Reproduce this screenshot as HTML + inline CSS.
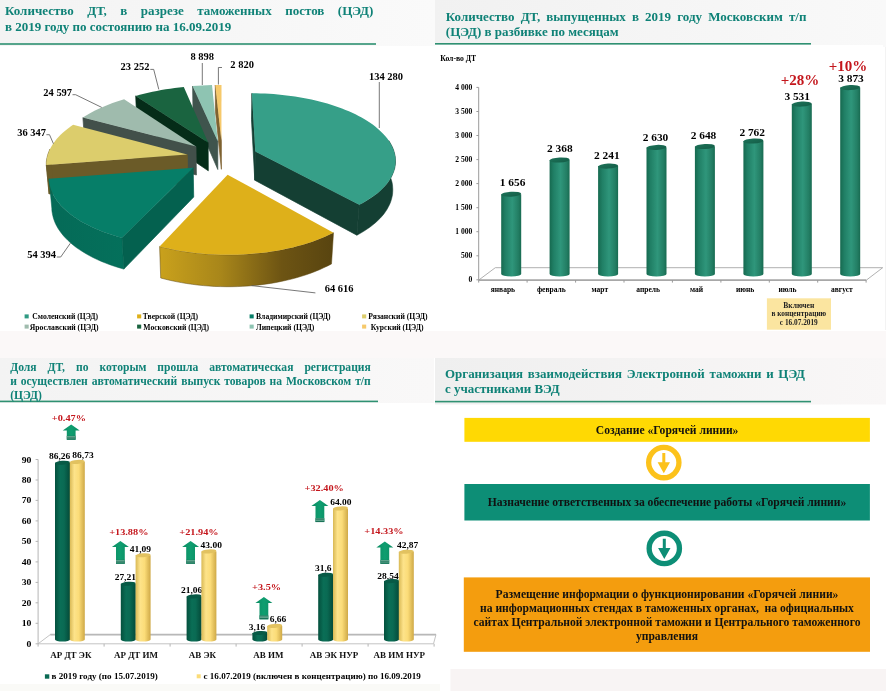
<!DOCTYPE html>
<html lang="ru"><head><meta charset="utf-8"><title>Слайд</title>
<style>
html,body{margin:0;padding:0;background:#fff}
#page{position:relative;width:886px;height:691px;overflow:hidden;background:#fff;font-family:"Liberation Serif","Noto Serif CJK SC",serif}
#page svg{position:absolute;left:0;top:0}
#page svg,#page .t{filter:blur(0.45px)}
svg text{font-family:"Liberation Serif","Noto Serif CJK SC",serif}
.t{position:absolute;color:#0f8277;font-weight:bold;text-align:left;white-space:nowrap}
.t.j{text-align:justify;text-align-last:justify;white-space:normal}
</style></head><body>
<div id="page">
<svg width="886" height="691" viewBox="0 0 886 691">
<rect x="0" y="0" width="886" height="691" fill="#ffffff"/>
<defs><linearGradient id="h1" x1="0" x2="1" y1="0" y2="0"><stop offset="0" stop-color="#f3f3f3"/><stop offset="1" stop-color="#fafafa"/></linearGradient><linearGradient id="h2" x1="0" x2="1" y1="0" y2="0"><stop offset="0" stop-color="#f1f1f1"/><stop offset="1" stop-color="#f9f9f9"/></linearGradient><linearGradient id="h3" x1="0" x2="1" y1="0" y2="0"><stop offset="0" stop-color="#f3f3f3"/><stop offset="1" stop-color="#f9f8f8"/></linearGradient><linearGradient id="h4" x1="0" x2="1" y1="0" y2="0"><stop offset="0" stop-color="#efefef"/><stop offset="1" stop-color="#f9f7f7"/></linearGradient></defs>
<rect x="0" y="0" width="435" height="46" fill="url(#h1)"/>
<rect x="435" y="0" width="451" height="45" fill="url(#h2)"/>
<rect x="883" y="0" width="3" height="47" fill="#f9f9f9"/>
<rect x="885" y="47" width="1" height="283" fill="#f3f3f3"/>
<rect x="0" y="331" width="886" height="27" fill="#fbf8f8"/>
<rect x="0" y="358" width="434" height="45" fill="url(#h3)"/>
<rect x="435" y="358" width="451" height="46.5" fill="url(#h4)"/>
<rect x="450.5" y="669" width="436" height="22" fill="#f8f4f4"/>
<rect x="0" y="684" width="440" height="7" fill="#fafaf7"/>
<rect x="0" y="43.2" width="376" height="1.6" fill="#2f9172"/>
<rect x="435" y="43.0" width="376" height="1.6" fill="#2f9172"/>
<rect x="0" y="400.6" width="378" height="1.6" fill="#2f9172"/>
<rect x="435" y="400.8" width="376" height="1.6" fill="#2f9172"/>
<defs>
<linearGradient id="gTv" x1="160" x2="334" y1="0" y2="0" gradientUnits="userSpaceOnUse"><stop offset="0" stop-color="#c9a11c"/><stop offset="0.35" stop-color="#a8861a"/><stop offset="0.7" stop-color="#6d5413"/><stop offset="1" stop-color="#584410"/></linearGradient>
<linearGradient id="gVl" x1="48" x2="125" y1="0" y2="0" gradientUnits="userSpaceOnUse"><stop offset="0" stop-color="#056a57"/><stop offset="1" stop-color="#04705b"/></linearGradient>
</defs>
<g id="pie"><polygon points="221.4,141.1 215.3,85.0 215.4,111.1 221.4,169.3" fill="#7e6230" stroke="#7e6230" stroke-width="0.7" stroke-linejoin="round"/>
<polygon points="221.4,141.1 215.3,85.0 218.4,84.9 221.5,84.9" fill="#f6c96b"/>
<polygon points="217.8,141.2 192.6,86.1 193.0,112.3 217.8,169.5" fill="#3f544d" stroke="#3f544d" stroke-width="0.7" stroke-linejoin="round"/>
<polygon points="217.8,141.2 192.6,86.1 197.4,85.7 202.3,85.4 207.1,85.2 212.0,85.1" fill="#8ec4b2"/>
<polygon points="208.1,142.5 135.7,95.9 136.9,122.5 208.3,170.8" fill="#052c18" stroke="#052c18" stroke-width="0.7" stroke-linejoin="round"/>
<polygon points="208.1,142.5 135.7,95.9 139.8,94.8 144.0,93.7 148.2,92.7 152.5,91.7 156.8,90.9 161.2,90.1 165.7,89.3 170.2,88.7 174.7,88.1 179.2,87.6 183.8,87.1" fill="#1a6440"/>
<polygon points="196.0,146.6 82.9,117.6 84.9,145.0 196.4,175.0" fill="#42504a" stroke="#42504a" stroke-width="0.7" stroke-linejoin="round"/>
<polygon points="196.0,146.6 82.9,117.6 85.7,115.8 88.7,114.0 91.8,112.3 95.0,110.6 98.3,109.0 101.7,107.4 105.2,105.9 108.8,104.5 112.5,103.1 116.3,101.8 120.2,100.5 124.1,99.3" fill="#9fbbad"/>
<polygon points="187.3,154.6 46.3,165.0 49.1,194.0 187.9,183.3" fill="#6b5b28" stroke="#6b5b28" stroke-width="0.7" stroke-linejoin="round"/>
<polygon points="46.3,165.0 46.3,162.2 46.6,159.5 47.2,156.9 47.9,154.2 48.9,151.6 50.0,149.0 52.7,177.5 51.5,180.2 50.6,182.9 49.9,185.6 49.4,188.4 49.1,191.2 49.1,194.0" fill="#6b5b28" stroke="#6b5b28" stroke-width="0.5" stroke-linejoin="round"/>
<polygon points="187.3,154.6 46.3,165.0 46.3,162.5 46.6,160.1 47.0,157.7 47.6,155.3 48.4,152.9 49.3,150.5 50.4,148.2 51.7,145.9 53.2,143.6 54.8,141.4 56.6,139.1 58.5,137.0 60.6,134.8 62.8,132.8 65.2,130.7 67.7,128.7 70.3,126.7 73.1,124.8" fill="#dccd6c"/>
<polygon points="255.3,151.6 251.9,93.3 251.5,119.8 254.8,180.2" fill="#143f33" stroke="#143f33" stroke-width="0.7" stroke-linejoin="round"/>
<polygon points="255.3,151.6 359.2,204.8 356.9,235.2 254.8,180.2" fill="#143f33" stroke="#143f33" stroke-width="0.7" stroke-linejoin="round"/>
<polygon points="388.7,140.5 390.1,142.7 391.3,144.9 392.4,147.1 393.4,149.4 394.1,151.7 394.7,154.0 395.2,156.3 395.4,158.6 395.5,160.9 395.5,163.3 395.2,165.6 394.8,168.0 394.1,170.3 393.3,172.6 392.3,175.0 391.2,177.3 389.8,179.6 388.3,181.9 386.5,184.2 384.6,186.4 382.5,188.6 380.2,190.8 377.8,192.9 375.1,195.0 372.3,197.1 369.3,199.1 366.1,201.1 362.8,203.0 359.2,204.8 356.9,235.2 360.4,233.3 363.7,231.3 366.8,229.3 369.8,227.2 372.6,225.1 375.2,222.9 377.6,220.7 379.9,218.5 382.0,216.2 383.9,213.9 385.6,211.5 387.1,209.2 388.4,206.8 389.6,204.4 390.6,202.0 391.4,199.5 392.0,197.1 392.5,194.7 392.7,192.3 392.8,189.8 392.7,187.4 392.5,185.0 392.1,182.6 391.5,180.3 390.7,177.9 389.8,175.6 388.7,173.3 387.5,171.0 386.1,168.7" fill="#143f33" stroke="#143f33" stroke-width="0.5" stroke-linejoin="round"/>
<polygon points="255.3,151.6 251.9,93.3 256.2,93.3 260.6,93.4 264.9,93.6 269.3,93.8 273.6,94.1 278.0,94.5 282.3,94.9 286.5,95.4 290.8,95.9 295.0,96.5 299.2,97.2 303.4,97.9 307.5,98.7 311.5,99.5 315.6,100.5 319.5,101.4 323.4,102.5 327.3,103.6 331.1,104.7 334.8,105.9 338.4,107.2 342.0,108.5 345.5,109.9 348.9,111.3 352.2,112.8 355.5,114.3 358.6,115.9 361.6,117.6 364.6,119.3 367.4,121.0 370.1,122.8 372.7,124.6 375.2,126.5 377.5,128.4 379.7,130.4 381.8,132.4 383.8,134.4 385.6,136.5 387.3,138.6 388.8,140.8 390.2,143.0 391.5,145.2 392.5,147.4 393.4,149.6 394.2,151.9 394.8,154.2 395.2,156.5 395.5,158.8 395.5,161.1 395.4,163.5 395.2,165.8 394.7,168.1 394.1,170.5 393.3,172.8 392.3,175.1 391.1,177.4 389.7,179.7 388.2,182.0 386.5,184.3 384.5,186.5 382.4,188.7 380.2,190.9 377.7,193.0 375.1,195.1 372.2,197.1 369.2,199.1 366.1,201.1 362.7,203.0 359.2,204.8" fill="#369f88"/>
<polygon points="193.2,167.8 122.0,237.7 123.8,269.1 193.7,197.0" fill="#04614f" stroke="#04614f" stroke-width="0.7" stroke-linejoin="round"/>
<polygon points="122.0,237.7 117.2,236.4 112.5,235.0 107.9,233.5 103.5,231.9 99.2,230.2 95.1,228.5 91.1,226.7 87.3,224.8 83.7,222.9 80.2,220.9 76.9,218.8 73.8,216.7 70.8,214.6 68.0,212.3 65.5,210.1 63.1,207.8 60.8,205.5 58.8,203.1 57.0,200.7 55.3,198.3 53.9,195.9 52.6,193.5 51.6,191.0 50.7,188.5 50.0,186.1 49.4,183.6 49.1,181.1 49.0,178.7 51.8,208.2 51.9,210.7 52.3,213.3 52.8,215.8 53.5,218.4 54.4,220.9 55.4,223.5 56.7,226.0 58.1,228.5 59.8,231.0 61.6,233.4 63.6,235.9 65.8,238.3 68.1,240.6 70.7,242.9 73.4,245.2 76.3,247.5 79.4,249.6 82.7,251.7 86.1,253.8 89.7,255.8 93.4,257.7 97.3,259.6 101.4,261.4 105.6,263.1 109.9,264.7 114.4,266.3 119.0,267.7 123.8,269.1" fill="url(#gVl)" stroke="#04614f" stroke-width="0.5" stroke-linejoin="round"/>
<polygon points="193.2,167.8 122.0,237.7 117.2,236.4 112.5,235.0 107.9,233.5 103.5,231.9 99.2,230.2 95.1,228.5 91.1,226.7 87.3,224.8 83.7,222.9 80.2,220.9 76.9,218.8 73.8,216.7 70.8,214.6 68.0,212.3 65.5,210.1 63.1,207.8 60.8,205.5 58.8,203.1 57.0,200.7 55.3,198.3 53.9,195.9 52.6,193.5 51.6,191.0 50.7,188.5 50.0,186.1 49.4,183.6 49.1,181.1 49.0,178.7" fill="#067e68"/>
<polygon points="333.5,232.7 329.6,234.6 325.5,236.5 321.2,238.3 316.8,240.0 312.3,241.7 307.6,243.3 302.8,244.7 297.8,246.1 292.8,247.4 287.6,248.6 282.3,249.7 276.9,250.7 271.5,251.6 266.0,252.4 260.4,253.1 254.7,253.6 249.0,254.1 243.3,254.5 237.5,254.7 231.7,254.8 225.9,254.8 220.2,254.7 214.4,254.5 208.6,254.2 202.9,253.7 197.3,253.2 191.6,252.5 186.1,251.8 180.6,250.9 175.2,249.9 169.9,248.8 164.7,247.7 159.6,246.4 160.7,278.0 165.7,279.3 170.8,280.5 176.0,281.6 181.3,282.6 186.7,283.5 192.2,284.3 197.7,285.0 203.3,285.6 208.9,286.0 214.5,286.4 220.2,286.6 225.9,286.7 231.6,286.7 237.2,286.6 242.9,286.3 248.5,286.0 254.1,285.5 259.7,284.9 265.2,284.2 270.6,283.4 276.0,282.5 281.2,281.4 286.4,280.3 291.5,279.1 296.5,277.7 301.3,276.3 306.1,274.8 310.7,273.2 315.1,271.5 319.5,269.7 323.6,267.8 327.7,265.9 331.5,263.9" fill="url(#gTv)" stroke="#5c4610" stroke-width="0.5" stroke-linejoin="round"/>
<polygon points="227.6,174.7 333.5,232.7 329.6,234.6 325.5,236.5 321.2,238.3 316.8,240.0 312.3,241.7 307.6,243.3 302.8,244.7 297.8,246.1 292.8,247.4 287.6,248.6 282.3,249.7 276.9,250.7 271.5,251.6 266.0,252.4 260.4,253.1 254.7,253.6 249.0,254.1 243.3,254.5 237.5,254.7 231.7,254.8 225.9,254.8 220.2,254.7 214.4,254.5 208.6,254.2 202.9,253.7 197.3,253.2 191.6,252.5 186.1,251.8 180.6,250.9 175.2,249.9 169.9,248.8 164.7,247.7 159.6,246.4" fill="#deb01a"/></g>
<polyline points="379.3,82 379.3,128" stroke="#555" stroke-width="0.8" fill="none"/>
<polyline points="251.5,285.6 315.4,292.9" stroke="#555" stroke-width="0.8" fill="none"/>
<polyline points="56.8,257 60.7,257 70.4,243.2" stroke="#555" stroke-width="0.8" fill="none"/>
<polyline points="46.4,134.7 49.5,134.7 53.4,143.7" stroke="#555" stroke-width="0.8" fill="none"/>
<polyline points="72.5,94.7 75.6,94.7 101.7,107.4" stroke="#555" stroke-width="0.8" fill="none"/>
<polyline points="150.3,69.4 153.7,69.4 158.8,89.4" stroke="#555" stroke-width="0.8" fill="none"/>
<polyline points="202.3,63 202.3,85" stroke="#555" stroke-width="0.8" fill="none"/>
<polyline points="222,67.5 218.4,67.5 218.4,84.5" stroke="#555" stroke-width="0.8" fill="none"/>
<text transform="translate(386.0 80.0) scale(1.070 1)" font-size="9.81" text-anchor="middle" fill="#000" font-weight="bold">134 280</text>
<text transform="translate(324.7 292.4) scale(1.070 1)" font-size="9.81" text-anchor="start" fill="#000" font-weight="bold">64 616</text>
<text transform="translate(56.0 258.3) scale(1.070 1)" font-size="9.81" text-anchor="end" fill="#000" font-weight="bold">54 394</text>
<text transform="translate(46.0 136.0) scale(1.070 1)" font-size="9.81" text-anchor="end" fill="#000" font-weight="bold">36 347</text>
<text transform="translate(72.1 96.0) scale(1.070 1)" font-size="9.81" text-anchor="end" fill="#000" font-weight="bold">24 597</text>
<text transform="translate(149.4 70.3) scale(1.070 1)" font-size="9.81" text-anchor="end" fill="#000" font-weight="bold">23 252</text>
<text transform="translate(202.2 60.3) scale(1.070 1)" font-size="9.81" text-anchor="middle" fill="#000" font-weight="bold">8 898</text>
<text transform="translate(230.3 67.6) scale(1.070 1)" font-size="9.81" text-anchor="start" fill="#000" font-weight="bold">2 820</text>
<rect x="24.6" y="314.4" width="4.1" height="4" fill="#2f9a82"/>
<text x="32.3" y="319.1" font-size="7.65" text-anchor="start" fill="#000" font-weight="bold">Смоленский (ЦЭД)</text>
<rect x="137.1" y="314.4" width="4.1" height="4" fill="#deb01a"/>
<text x="142.8" y="319.1" font-size="7.65" text-anchor="start" fill="#000" font-weight="bold">Тверской (ЦЭД)</text>
<rect x="249.6" y="314.4" width="4.1" height="4" fill="#067e68"/>
<text x="256.0" y="319.1" font-size="7.65" text-anchor="start" fill="#000" font-weight="bold">Владимирский (ЦЭД)</text>
<rect x="362.1" y="314.4" width="4.1" height="4" fill="#dccd6c"/>
<text x="368.3" y="319.1" font-size="7.65" text-anchor="start" fill="#000" font-weight="bold">Рязанский (ЦЭД)</text>
<rect x="24.6" y="324.6" width="4.1" height="4" fill="#9fbbad"/>
<text x="29.8" y="329.8" font-size="7.65" text-anchor="start" fill="#000" font-weight="bold">Ярославский (ЦЭД)</text>
<rect x="137.1" y="324.6" width="4.1" height="4" fill="#1a6440"/>
<text x="143.3" y="329.8" font-size="7.65" text-anchor="start" fill="#000" font-weight="bold">Московский (ЦЭД)</text>
<rect x="249.6" y="324.6" width="4.1" height="4" fill="#8ec4b2"/>
<text x="256.0" y="329.8" font-size="7.65" text-anchor="start" fill="#000" font-weight="bold">Липецкий (ЦЭД)</text>
<rect x="362.1" y="324.6" width="4.1" height="4" fill="#f6c96b"/>
<text x="370.7" y="329.8" font-size="7.65" text-anchor="start" fill="#000" font-weight="bold">Курский (ЦЭД)</text>
<defs>
<linearGradient id="gB" x1="0" x2="1" y1="0" y2="0"><stop offset="0" stop-color="#16694f"/><stop offset="0.2" stop-color="#207f65"/><stop offset="0.55" stop-color="#2f967b"/><stop offset="0.85" stop-color="#237e64"/><stop offset="1" stop-color="#186b51"/></linearGradient>
<linearGradient id="gBt" x1="0" x2="1" y1="0" y2="1"><stop offset="0" stop-color="#1d7359"/><stop offset="1" stop-color="#145d47"/></linearGradient>
</defs>
<polygon points="478.7,280.1 495.3,267.7 882.7,267.7 866.4,280.1" fill="#fff" stroke="#a8a8a8" stroke-width="0.9"/>
<line x1="478.7" y1="87.4" x2="478.7" y2="279.8" stroke="#9a9a9a" stroke-width="1" fill="none"/>
<line x1="476.4" y1="279.8" x2="478.7" y2="279.8" stroke="#9a9a9a" stroke-width="1" fill="none"/>
<text transform="translate(472.4 282.2) scale(1.040 1)" font-size="7.31" text-anchor="end" fill="#000" font-weight="bold">0</text>
<line x1="476.4" y1="255.8" x2="478.7" y2="255.8" stroke="#9a9a9a" stroke-width="1" fill="none"/>
<text transform="translate(472.4 258.1) scale(1.040 1)" font-size="7.31" text-anchor="end" fill="#000" font-weight="bold">500</text>
<line x1="476.4" y1="231.7" x2="478.7" y2="231.7" stroke="#9a9a9a" stroke-width="1" fill="none"/>
<text transform="translate(472.4 234.1) scale(1.040 1)" font-size="7.31" text-anchor="end" fill="#000" font-weight="bold">1 000</text>
<line x1="476.4" y1="207.7" x2="478.7" y2="207.7" stroke="#9a9a9a" stroke-width="1" fill="none"/>
<text transform="translate(472.4 210.1) scale(1.040 1)" font-size="7.31" text-anchor="end" fill="#000" font-weight="bold">1 500</text>
<line x1="476.4" y1="183.6" x2="478.7" y2="183.6" stroke="#9a9a9a" stroke-width="1" fill="none"/>
<text transform="translate(472.4 186.0) scale(1.040 1)" font-size="7.31" text-anchor="end" fill="#000" font-weight="bold">2 000</text>
<line x1="476.4" y1="159.6" x2="478.7" y2="159.6" stroke="#9a9a9a" stroke-width="1" fill="none"/>
<text transform="translate(472.4 162.0) scale(1.040 1)" font-size="7.31" text-anchor="end" fill="#000" font-weight="bold">2 500</text>
<line x1="476.4" y1="135.5" x2="478.7" y2="135.5" stroke="#9a9a9a" stroke-width="1" fill="none"/>
<text transform="translate(472.4 137.9) scale(1.040 1)" font-size="7.31" text-anchor="end" fill="#000" font-weight="bold">3 000</text>
<line x1="476.4" y1="111.5" x2="478.7" y2="111.5" stroke="#9a9a9a" stroke-width="1" fill="none"/>
<text transform="translate(472.4 113.9) scale(1.040 1)" font-size="7.31" text-anchor="end" fill="#000" font-weight="bold">3 500</text>
<line x1="476.4" y1="87.4" x2="478.7" y2="87.4" stroke="#9a9a9a" stroke-width="1" fill="none"/>
<text transform="translate(472.4 89.8) scale(1.040 1)" font-size="7.31" text-anchor="end" fill="#000" font-weight="bold">4 000</text>
<line x1="478.7" y1="280.1" x2="478.7" y2="282.6" stroke="#9a9a9a" stroke-width="1" fill="none"/>
<line x1="527.1" y1="280.1" x2="527.1" y2="282.6" stroke="#9a9a9a" stroke-width="1" fill="none"/>
<line x1="575.6" y1="280.1" x2="575.6" y2="282.6" stroke="#9a9a9a" stroke-width="1" fill="none"/>
<line x1="624.0" y1="280.1" x2="624.0" y2="282.6" stroke="#9a9a9a" stroke-width="1" fill="none"/>
<line x1="672.4" y1="280.1" x2="672.4" y2="282.6" stroke="#9a9a9a" stroke-width="1" fill="none"/>
<line x1="720.9" y1="280.1" x2="720.9" y2="282.6" stroke="#9a9a9a" stroke-width="1" fill="none"/>
<line x1="769.3" y1="280.1" x2="769.3" y2="282.6" stroke="#9a9a9a" stroke-width="1" fill="none"/>
<line x1="817.7" y1="280.1" x2="817.7" y2="282.6" stroke="#9a9a9a" stroke-width="1" fill="none"/>
<line x1="866.1" y1="280.1" x2="866.1" y2="282.6" stroke="#9a9a9a" stroke-width="1" fill="none"/>
<line x1="478.7" y1="280.1" x2="866.1" y2="280.1" stroke="#9a9a9a" stroke-width="1.3"/>
<text transform="translate(440.2 61.0) scale(1.040 1)" font-size="7.40" text-anchor="start" fill="#000" font-weight="bold">Кол-во ДТ</text>
<path d="M501.2,194.2 L501.2,273.9 A10.0,2.5 0 0 0 521.2,273.9 L521.2,194.2 Z" fill="url(#gB)"/>
<ellipse cx="511.2" cy="194.2" rx="10.0" ry="2.5" fill="url(#gBt)" transform="rotate(-3 511.2 194.2)"/>
<text x="512.6" y="185.5" font-size="11.40" text-anchor="middle" fill="#000" font-weight="bold">1 656</text>
<text x="502.9" y="291.8" font-size="7.50" text-anchor="middle" fill="#000" font-weight="bold">январь</text>
<path d="M549.6,160.0 L549.6,273.9 A10.0,2.5 0 0 0 569.6,273.9 L569.6,160.0 Z" fill="url(#gB)"/>
<ellipse cx="559.6" cy="160.0" rx="10.0" ry="2.5" fill="url(#gBt)" transform="rotate(-3 559.6 160.0)"/>
<text x="559.8" y="152.4" font-size="11.40" text-anchor="middle" fill="#000" font-weight="bold">2 368</text>
<text x="551.3" y="291.8" font-size="7.50" text-anchor="middle" fill="#000" font-weight="bold">февраль</text>
<path d="M598.1,166.1 L598.1,273.9 A10.0,2.5 0 0 0 618.1,273.9 L618.1,166.1 Z" fill="url(#gB)"/>
<ellipse cx="608.1" cy="166.1" rx="10.0" ry="2.5" fill="url(#gBt)" transform="rotate(-3 608.1 166.1)"/>
<text x="606.8" y="159.3" font-size="11.40" text-anchor="middle" fill="#000" font-weight="bold">2 241</text>
<text x="599.8" y="291.8" font-size="7.50" text-anchor="middle" fill="#000" font-weight="bold">март</text>
<path d="M646.5,147.4 L646.5,273.9 A10.0,2.5 0 0 0 666.5,273.9 L666.5,147.4 Z" fill="url(#gB)"/>
<ellipse cx="656.5" cy="147.4" rx="10.0" ry="2.5" fill="url(#gBt)" transform="rotate(-3 656.5 147.4)"/>
<text x="655.5" y="140.7" font-size="11.40" text-anchor="middle" fill="#000" font-weight="bold">2 630</text>
<text x="648.2" y="291.8" font-size="7.50" text-anchor="middle" fill="#000" font-weight="bold">апрель</text>
<path d="M694.9,146.5 L694.9,273.9 A10.0,2.5 0 0 0 714.9,273.9 L714.9,146.5 Z" fill="url(#gB)"/>
<ellipse cx="704.9" cy="146.5" rx="10.0" ry="2.5" fill="url(#gBt)" transform="rotate(-3 704.9 146.5)"/>
<text x="703.5" y="139.4" font-size="11.40" text-anchor="middle" fill="#000" font-weight="bold">2 648</text>
<text x="696.6" y="291.8" font-size="7.50" text-anchor="middle" fill="#000" font-weight="bold">май</text>
<path d="M743.4,141.0 L743.4,273.9 A10.0,2.5 0 0 0 763.4,273.9 L763.4,141.0 Z" fill="url(#gB)"/>
<ellipse cx="753.4" cy="141.0" rx="10.0" ry="2.5" fill="url(#gBt)" transform="rotate(-3 753.4 141.0)"/>
<text x="752.2" y="136.0" font-size="11.40" text-anchor="middle" fill="#000" font-weight="bold">2 762</text>
<text x="745.1" y="291.8" font-size="7.50" text-anchor="middle" fill="#000" font-weight="bold">июнь</text>
<path d="M791.8,104.1 L791.8,273.9 A10.0,2.5 0 0 0 811.8,273.9 L811.8,104.1 Z" fill="url(#gB)"/>
<ellipse cx="801.8" cy="104.1" rx="10.0" ry="2.5" fill="url(#gBt)" transform="rotate(-3 801.8 104.1)"/>
<text x="797.2" y="100.4" font-size="11.40" text-anchor="middle" fill="#000" font-weight="bold">3 531</text>
<text x="787.5" y="291.8" font-size="7.50" text-anchor="middle" fill="#000" font-weight="bold">июль</text>
<path d="M840.2,87.6 L840.2,273.9 A10.0,2.5 0 0 0 860.2,273.9 L860.2,87.6 Z" fill="url(#gB)"/>
<ellipse cx="850.2" cy="87.6" rx="10.0" ry="2.5" fill="url(#gBt)" transform="rotate(-3 850.2 87.6)"/>
<text x="851.0" y="82.1" font-size="11.40" text-anchor="middle" fill="#000" font-weight="bold">3 873</text>
<text x="841.9" y="291.8" font-size="7.50" text-anchor="middle" fill="#000" font-weight="bold">август</text>
<text x="800.1" y="84.7" font-size="15.00" text-anchor="middle" fill="#c4161c" font-weight="bold">+28%</text>
<text x="848.0" y="70.7" font-size="15.00" text-anchor="middle" fill="#c4161c" font-weight="bold">+10%</text>
<rect x="766.9" y="298.3" width="64.1" height="31.4" fill="#fbe5a0"/>
<text x="798.8" y="307.7" font-size="7.50" text-anchor="middle" fill="#222" font-weight="bold">Включен</text>
<text x="798.8" y="316.3" font-size="7.30" text-anchor="middle" fill="#222" font-weight="bold">в концентрацию</text>
<text x="798.8" y="324.8" font-size="7.30" text-anchor="middle" fill="#222" font-weight="bold">с 16.07.2019</text>
<defs>
<linearGradient id="gG" x1="0" x2="1" y1="0" y2="0"><stop offset="0" stop-color="#04503d"/><stop offset="0.35" stop-color="#0a6e56"/><stop offset="0.6" stop-color="#0a6a53"/><stop offset="1" stop-color="#044a39"/></linearGradient>
<linearGradient id="gY" x1="0" x2="1" y1="0" y2="0"><stop offset="0" stop-color="#d9b955"/><stop offset="0.3" stop-color="#fde38a"/><stop offset="0.6" stop-color="#fbdc78"/><stop offset="1" stop-color="#cfa947"/></linearGradient>
<linearGradient id="gAr" x1="0" x2="1" y1="0" y2="0"><stop offset="0" stop-color="#0b8c62"/><stop offset="0.5" stop-color="#0f9e70"/><stop offset="1" stop-color="#0b8c62"/></linearGradient>
</defs>
<polygon points="38.1,643.8 50.3,634.6 436.0,634.6 433.5,643.8" fill="#fff" stroke="#c4c4c4" stroke-width="1"/>
<line x1="50.3" y1="634.6" x2="436" y2="634.6" stroke="#b8b8b8" stroke-width="1.6"/>
<line x1="38.1" y1="459.5" x2="38.1" y2="643.8" stroke="#b5b5b5" stroke-width="1" fill="none"/>
<line x1="35.6" y1="643.8" x2="38.1" y2="643.8" stroke="#b5b5b5" stroke-width="1" fill="none"/>
<text transform="translate(31.4 646.8) scale(1.100 1)" font-size="8.82" text-anchor="end" fill="#000" font-weight="bold">0</text>
<line x1="35.6" y1="623.3" x2="38.1" y2="623.3" stroke="#b5b5b5" stroke-width="1" fill="none"/>
<text transform="translate(31.4 626.3) scale(1.100 1)" font-size="8.82" text-anchor="end" fill="#000" font-weight="bold">10</text>
<line x1="35.6" y1="602.8" x2="38.1" y2="602.8" stroke="#b5b5b5" stroke-width="1" fill="none"/>
<text transform="translate(31.4 605.8) scale(1.100 1)" font-size="8.82" text-anchor="end" fill="#000" font-weight="bold">20</text>
<line x1="35.6" y1="582.4" x2="38.1" y2="582.4" stroke="#b5b5b5" stroke-width="1" fill="none"/>
<text transform="translate(31.4 585.4) scale(1.100 1)" font-size="8.82" text-anchor="end" fill="#000" font-weight="bold">30</text>
<line x1="35.6" y1="561.9" x2="38.1" y2="561.9" stroke="#b5b5b5" stroke-width="1" fill="none"/>
<text transform="translate(31.4 564.9) scale(1.100 1)" font-size="8.82" text-anchor="end" fill="#000" font-weight="bold">40</text>
<line x1="35.6" y1="541.4" x2="38.1" y2="541.4" stroke="#b5b5b5" stroke-width="1" fill="none"/>
<text transform="translate(31.4 544.4) scale(1.100 1)" font-size="8.82" text-anchor="end" fill="#000" font-weight="bold">50</text>
<line x1="35.6" y1="520.9" x2="38.1" y2="520.9" stroke="#b5b5b5" stroke-width="1" fill="none"/>
<text transform="translate(31.4 523.9) scale(1.100 1)" font-size="8.82" text-anchor="end" fill="#000" font-weight="bold">60</text>
<line x1="35.6" y1="500.4" x2="38.1" y2="500.4" stroke="#b5b5b5" stroke-width="1" fill="none"/>
<text transform="translate(31.4 503.4) scale(1.100 1)" font-size="8.82" text-anchor="end" fill="#000" font-weight="bold">70</text>
<line x1="35.6" y1="480.0" x2="38.1" y2="480.0" stroke="#b5b5b5" stroke-width="1" fill="none"/>
<text transform="translate(31.4 483.0) scale(1.100 1)" font-size="8.82" text-anchor="end" fill="#000" font-weight="bold">80</text>
<line x1="35.6" y1="459.5" x2="38.1" y2="459.5" stroke="#b5b5b5" stroke-width="1" fill="none"/>
<text transform="translate(31.4 462.5) scale(1.100 1)" font-size="8.82" text-anchor="end" fill="#000" font-weight="bold">90</text>
<line x1="38.1" y1="643.8" x2="38.1" y2="646.6" stroke="#b5b5b5" stroke-width="1" fill="none"/>
<line x1="104.1" y1="643.8" x2="104.1" y2="646.6" stroke="#b5b5b5" stroke-width="1" fill="none"/>
<line x1="170.1" y1="643.8" x2="170.1" y2="646.6" stroke="#b5b5b5" stroke-width="1" fill="none"/>
<line x1="236.1" y1="643.8" x2="236.1" y2="646.6" stroke="#b5b5b5" stroke-width="1" fill="none"/>
<line x1="302.1" y1="643.8" x2="302.1" y2="646.6" stroke="#b5b5b5" stroke-width="1" fill="none"/>
<line x1="368.1" y1="643.8" x2="368.1" y2="646.6" stroke="#b5b5b5" stroke-width="1" fill="none"/>
<line x1="434.1" y1="643.8" x2="434.1" y2="646.6" stroke="#b5b5b5" stroke-width="1" fill="none"/>
<text transform="translate(59.6 458.8) scale(1.140 1)" font-size="8.33" text-anchor="middle" fill="#000" font-weight="bold">86,26</text>
<path d="M55.0,462.8 L55.0,639.5 A7.5,2.0 0 0 0 70.0,639.5 L70.0,462.8 Z" fill="url(#gG)"/>
<ellipse cx="62.5" cy="462.8" rx="7.5" ry="2.0" fill="#075a46" transform="rotate(-4 62.5 462.8)"/>
<path d="M69.8,461.9 L69.8,639.5 A7.5,2.0 0 0 0 84.8,639.5 L84.8,461.9 Z" fill="url(#gY)"/>
<ellipse cx="77.3" cy="461.9" rx="7.5" ry="2.0" fill="#e2c260" transform="rotate(-4 77.3 461.9)"/>
<text transform="translate(83.0 457.8) scale(1.140 1)" font-size="8.33" text-anchor="middle" fill="#000" font-weight="bold">86,73</text>
<text transform="translate(70.8 657.6) scale(1.110 1)" font-size="8.11" text-anchor="middle" fill="#111" font-weight="bold">АР ДТ ЭК</text>
<text transform="translate(68.9 421.1) scale(1.130 1)" font-size="9.12" text-anchor="middle" fill="#c4161c" font-weight="bold">+0.47%</text>
<polygon points="71.2,424.5 79.7,430.5 75.6,430.5 75.6,439.7 66.8,439.7 66.8,430.5 62.7,430.5" fill="url(#gAr)"/>
<rect x="66.8" y="435.8" width="8.8" height="3.9" fill="#1a7258"/>
<rect x="66.8" y="436.2" width="8.8" height="0.7" fill="#7db8a2"/>
<rect x="66.8" y="437.6" width="8.8" height="0.7" fill="#7db8a2"/>
<text transform="translate(125.3 580.2) scale(1.140 1)" font-size="8.33" text-anchor="middle" fill="#000" font-weight="bold">27,21</text>
<path d="M120.8,583.8 L120.8,639.5 A7.5,2.0 0 0 0 135.8,639.5 L135.8,583.8 Z" fill="url(#gG)"/>
<ellipse cx="128.3" cy="583.8" rx="7.5" ry="2.0" fill="#075a46" transform="rotate(-4 128.3 583.8)"/>
<path d="M135.6,555.3 L135.6,639.5 A7.5,2.0 0 0 0 150.6,639.5 L150.6,555.3 Z" fill="url(#gY)"/>
<ellipse cx="143.1" cy="555.3" rx="7.5" ry="2.0" fill="#e2c260" transform="rotate(-4 143.1 555.3)"/>
<text transform="translate(140.4 551.6) scale(1.140 1)" font-size="8.33" text-anchor="middle" fill="#000" font-weight="bold">41,09</text>
<text transform="translate(136.0 657.6) scale(1.110 1)" font-size="8.11" text-anchor="middle" fill="#111" font-weight="bold">АР ДТ ИМ</text>
<text transform="translate(128.8 534.5) scale(1.130 1)" font-size="9.12" text-anchor="middle" fill="#c4161c" font-weight="bold">+13.88%</text>
<polygon points="120.4,541.1 128.9,547.1 124.8,547.1 124.8,563.7 116.0,563.7 116.0,547.1 111.9,547.1" fill="url(#gAr)"/>
<rect x="116.0" y="559.8" width="8.8" height="3.9" fill="#1a7258"/>
<rect x="116.0" y="560.2" width="8.8" height="0.7" fill="#7db8a2"/>
<rect x="116.0" y="561.6" width="8.8" height="0.7" fill="#7db8a2"/>
<text transform="translate(191.6 593.0) scale(1.140 1)" font-size="8.33" text-anchor="middle" fill="#000" font-weight="bold">21,06</text>
<path d="M186.6,596.4 L186.6,639.5 A7.5,2.0 0 0 0 201.6,639.5 L201.6,596.4 Z" fill="url(#gG)"/>
<ellipse cx="194.1" cy="596.4" rx="7.5" ry="2.0" fill="#075a46" transform="rotate(-4 194.1 596.4)"/>
<path d="M201.4,551.4 L201.4,639.5 A7.5,2.0 0 0 0 216.4,639.5 L216.4,551.4 Z" fill="url(#gY)"/>
<ellipse cx="208.9" cy="551.4" rx="7.5" ry="2.0" fill="#e2c260" transform="rotate(-4 208.9 551.4)"/>
<text transform="translate(211.2 547.9) scale(1.140 1)" font-size="8.33" text-anchor="middle" fill="#000" font-weight="bold">43.00</text>
<text transform="translate(202.4 657.6) scale(1.110 1)" font-size="8.11" text-anchor="middle" fill="#111" font-weight="bold">АВ ЭК</text>
<text transform="translate(199.0 534.5) scale(1.130 1)" font-size="9.12" text-anchor="middle" fill="#c4161c" font-weight="bold">+21.94%</text>
<polygon points="190.6,541.1 199.1,547.1 195.0,547.1 195.0,563.7 186.2,563.7 186.2,547.1 182.1,547.1" fill="url(#gAr)"/>
<rect x="186.2" y="559.8" width="8.8" height="3.9" fill="#1a7258"/>
<rect x="186.2" y="560.2" width="8.8" height="0.7" fill="#7db8a2"/>
<rect x="186.2" y="561.6" width="8.8" height="0.7" fill="#7db8a2"/>
<text transform="translate(257.0 629.5) scale(1.140 1)" font-size="8.33" text-anchor="middle" fill="#000" font-weight="bold">3,16</text>
<path d="M252.4,633.0 L252.4,639.5 A7.5,2.0 0 0 0 267.4,639.5 L267.4,633.0 Z" fill="url(#gG)"/>
<ellipse cx="259.9" cy="633.0" rx="7.5" ry="2.0" fill="#075a46" transform="rotate(-4 259.9 633.0)"/>
<path d="M267.2,625.9 L267.2,639.5 A7.5,2.0 0 0 0 282.2,639.5 L282.2,625.9 Z" fill="url(#gY)"/>
<ellipse cx="274.7" cy="625.9" rx="7.5" ry="2.0" fill="#e2c260" transform="rotate(-4 274.7 625.9)"/>
<text transform="translate(278.0 622.4) scale(1.140 1)" font-size="8.33" text-anchor="middle" fill="#000" font-weight="bold">6,66</text>
<text transform="translate(268.3 657.6) scale(1.110 1)" font-size="8.11" text-anchor="middle" fill="#111" font-weight="bold">АВ ИМ</text>
<text transform="translate(266.6 590.4) scale(1.130 1)" font-size="9.12" text-anchor="middle" fill="#c4161c" font-weight="bold">+3.5%</text>
<polygon points="263.9,597.1 272.4,603.1 268.3,603.1 268.3,619.3 259.5,619.3 259.5,603.1 255.4,603.1" fill="url(#gAr)"/>
<rect x="259.5" y="615.4" width="8.8" height="3.9" fill="#1a7258"/>
<rect x="259.5" y="615.8" width="8.8" height="0.7" fill="#7db8a2"/>
<rect x="259.5" y="617.2" width="8.8" height="0.7" fill="#7db8a2"/>
<text transform="translate(323.2 571.1) scale(1.140 1)" font-size="8.33" text-anchor="middle" fill="#000" font-weight="bold">31,6</text>
<path d="M318.2,574.8 L318.2,639.5 A7.5,2.0 0 0 0 333.2,639.5 L333.2,574.8 Z" fill="url(#gG)"/>
<ellipse cx="325.7" cy="574.8" rx="7.5" ry="2.0" fill="#075a46" transform="rotate(-4 325.7 574.8)"/>
<path d="M333.0,508.4 L333.0,639.5 A7.5,2.0 0 0 0 348.0,639.5 L348.0,508.4 Z" fill="url(#gY)"/>
<ellipse cx="340.5" cy="508.4" rx="7.5" ry="2.0" fill="#e2c260" transform="rotate(-4 340.5 508.4)"/>
<text transform="translate(340.8 504.7) scale(1.140 1)" font-size="8.33" text-anchor="middle" fill="#000" font-weight="bold">64.00</text>
<text transform="translate(334.0 657.6) scale(1.110 1)" font-size="8.11" text-anchor="middle" fill="#111" font-weight="bold">АВ ЭК НУР</text>
<text transform="translate(324.2 491.4) scale(1.130 1)" font-size="9.12" text-anchor="middle" fill="#c4161c" font-weight="bold">+32.40%</text>
<polygon points="319.9,500.0 328.4,506.0 324.3,506.0 324.3,522.1 315.5,522.1 315.5,506.0 311.4,506.0" fill="url(#gAr)"/>
<rect x="315.5" y="518.2" width="8.8" height="3.9" fill="#1a7258"/>
<rect x="315.5" y="518.6" width="8.8" height="0.7" fill="#7db8a2"/>
<rect x="315.5" y="520.0" width="8.8" height="0.7" fill="#7db8a2"/>
<text transform="translate(388.0 578.6) scale(1.140 1)" font-size="8.33" text-anchor="middle" fill="#000" font-weight="bold">28,54</text>
<path d="M384.0,581.1 L384.0,639.5 A7.5,2.0 0 0 0 399.0,639.5 L399.0,581.1 Z" fill="url(#gG)"/>
<ellipse cx="391.5" cy="581.1" rx="7.5" ry="2.0" fill="#075a46" transform="rotate(-4 391.5 581.1)"/>
<path d="M398.8,551.7 L398.8,639.5 A7.5,2.0 0 0 0 413.8,639.5 L413.8,551.7 Z" fill="url(#gY)"/>
<ellipse cx="406.3" cy="551.7" rx="7.5" ry="2.0" fill="#e2c260" transform="rotate(-4 406.3 551.7)"/>
<text transform="translate(407.6 548.2) scale(1.140 1)" font-size="8.33" text-anchor="middle" fill="#000" font-weight="bold">42,87</text>
<text transform="translate(399.3 657.6) scale(1.110 1)" font-size="8.11" text-anchor="middle" fill="#111" font-weight="bold">АВ ИМ НУР</text>
<text transform="translate(384.0 534.4) scale(1.130 1)" font-size="9.12" text-anchor="middle" fill="#c4161c" font-weight="bold">+14.33%</text>
<polygon points="384.8,541.6 393.3,547.6 389.2,547.6 389.2,563.8 380.4,563.8 380.4,547.6 376.3,547.6" fill="url(#gAr)"/>
<rect x="380.4" y="559.9" width="8.8" height="3.9" fill="#1a7258"/>
<rect x="380.4" y="560.3" width="8.8" height="0.7" fill="#7db8a2"/>
<rect x="380.4" y="561.7" width="8.8" height="0.7" fill="#7db8a2"/>
<rect x="44.9" y="674.3" width="4.4" height="4.4" fill="#0a6a53"/>
<text transform="translate(51.6 678.8) scale(1.130 1)" font-size="8.05" text-anchor="start" fill="#000" font-weight="bold">в 2019 году (по 15.07.2019)</text>
<rect x="196.7" y="674.3" width="4" height="4" fill="#fbdc78"/>
<text transform="translate(203.5 678.8) scale(1.130 1)" font-size="8.05" text-anchor="start" fill="#000" font-weight="bold">с 16.07.2019 (включен в концентрацию) по 16.09.2019</text>
<rect x="464.4" y="417.9" width="405.5" height="23.9" fill="#ffd903"/>
<rect x="464.4" y="484" width="405.5" height="36.5" fill="#0d8e76"/>
<rect x="463.8" y="577.4" width="406.2" height="74.4" fill="#f49d0e"/>
<circle cx="663.8" cy="462.6" r="15.15" fill="#fff" stroke="#fcc21b" stroke-width="5.3"/>
<path d="M662.3,453.0 h3 v9.3 h4.7 l-6.2,10.9 l-6.2,-10.9 h4.7 z" fill="#fcc21b"/>
<circle cx="664.3" cy="548.4" r="15.15" fill="#fff" stroke="#0d8e76" stroke-width="5.3"/>
<path d="M662.8,538.8 h3 v9.3 h4.7 l-6.2,10.9 l-6.2,-10.9 h4.7 z" fill="#0d8e76"/>
<text x="667.1" y="434.3" font-size="11.60" text-anchor="middle" fill="#111" font-weight="bold">Создание «Горячей линии»</text>
<text x="667.0" y="506.3" font-size="11.60" text-anchor="middle" fill="#111" font-weight="bold">Назначение ответственных за обеспечение работы «Горячей линии»</text>
<text x="667.0" y="597.8" font-size="11.60" text-anchor="middle" fill="#111" font-weight="bold">Размещение информации о функционировании «Горячей линии»</text>
<text x="667.0" y="611.9" font-size="11.60" text-anchor="middle" fill="#111" font-weight="bold">на информационных стендах в таможенных органах,&#160; на официальных</text>
<text x="667.0" y="626.1" font-size="11.60" text-anchor="middle" fill="#111" font-weight="bold">сайтах Центральной электронной таможни и Центрального таможенного</text>
<text x="667.0" y="640.2" font-size="11.60" text-anchor="middle" fill="#111" font-weight="bold">управления</text>
</svg>
<div class="t j" style="left:5px;top:4.4px;width:368.3px;font-size:13px;line-height:13.0px">Количество ДТ, в разрезе таможенных постов (ЦЭД)</div>
<div class="t" style="left:5px;top:19.6px;width:368.3px;font-size:13px;line-height:13.0px">в 2019 году по состоянию на 16.09.2019</div>
<div class="t j" style="left:445.8px;top:9.9px;width:360.6px;font-size:13px;line-height:13.0px">Количество ДТ, выпущенных в 2019 году Московским т/п</div>
<div class="t" style="left:445.8px;top:25.2px;width:360.6px;font-size:13px;line-height:13.0px">(ЦЭД) в разбивке по месяцам</div>
<div class="t j" style="left:10.2px;top:361.9px;width:360.6px;font-size:11.6px;line-height:11.6px">Доля ДТ, по которым прошла автоматическая регистрация</div>
<div class="t j" style="left:10.2px;top:375.6px;width:360.6px;font-size:11.6px;line-height:11.6px">и осуществлен автоматический выпуск товаров на Московском т/п</div>
<div class="t" style="left:10.2px;top:389.7px;width:360.6px;font-size:11.6px;line-height:11.6px">(ЦЭД)</div>
<div class="t j" style="left:445px;top:367.8px;width:360px;font-size:12.95px;line-height:12.95px">Организация взаимодействия Электронной таможни и ЦЭД</div>
<div class="t" style="left:445px;top:383.4px;width:360px;font-size:12.95px;line-height:12.95px">с участниками ВЭД</div>
</div>
</body></html>
